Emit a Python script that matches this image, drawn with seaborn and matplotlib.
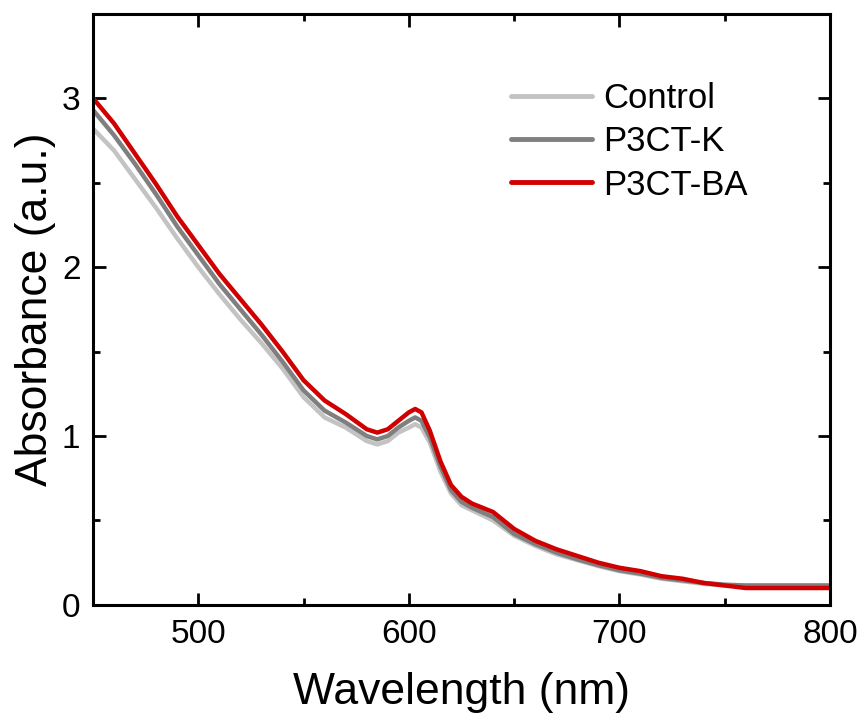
import numpy as np
import pandas as pd
import matplotlib
matplotlib.use("Agg")
import matplotlib.pyplot as plt
import seaborn as sns
from matplotlib.ticker import MultipleLocator

wavelength = [450, 460, 470, 480, 490, 500, 510, 520, 530, 540, 550, 560, 570, 580, 585,
              590, 595, 600, 603, 606, 610, 615, 620, 625, 630, 640, 650, 660, 670, 680,
              690, 700, 710, 720, 730, 740, 750, 760, 770, 780, 790, 800]

control = [2.82, 2.69, 2.52, 2.35, 2.17, 2.00, 1.84, 1.69, 1.55, 1.40, 1.23, 1.11, 1.05, 0.97, 0.95,
           0.97, 1.02, 1.05, 1.07, 1.05, 0.96, 0.79, 0.66, 0.59, 0.56, 0.50, 0.41, 0.35, 0.30, 0.265,
           0.23, 0.20, 0.18, 0.155, 0.14, 0.125, 0.115, 0.115, 0.115, 0.115, 0.115, 0.115]

p3ct_k = [2.93, 2.78, 2.61, 2.43, 2.24, 2.07, 1.90, 1.75, 1.60, 1.44, 1.27, 1.15, 1.08, 1.00, 0.98,
          1.00, 1.05, 1.09, 1.11, 1.09, 0.99, 0.82, 0.68, 0.61, 0.575, 0.52, 0.42, 0.36, 0.31, 0.27,
          0.235, 0.205, 0.185, 0.16, 0.145, 0.13, 0.12, 0.115, 0.115, 0.115, 0.115, 0.115]

p3ct_ba = [3.00, 2.85, 2.67, 2.49, 2.30, 2.13, 1.96, 1.81, 1.66, 1.50, 1.33, 1.21, 1.13, 1.04, 1.02,
           1.04, 1.09, 1.14, 1.16, 1.14, 1.03, 0.85, 0.71, 0.64, 0.60, 0.55, 0.45, 0.38, 0.33, 0.29,
           0.25, 0.22, 0.20, 0.17, 0.155, 0.13, 0.115, 0.10, 0.10, 0.10, 0.10, 0.10]

series_names = ["Control", "P3CT-K", "P3CT-BA"]
colors = ["#c3c3c3", "#7f7f7f", "#d10000"]

df = pd.concat([
    pd.DataFrame({"Wavelength": wavelength, "Absorbance": vals, "Sample": name})
    for name, vals in zip(series_names, [control, p3ct_k, p3ct_ba])
], ignore_index=True)

sns.set_style("ticks")
plt.rcParams["font.family"] = ["Liberation Sans", "DejaVu Sans"]
plt.rcParams["text.color"] = "black"
plt.rcParams["axes.labelcolor"] = "black"
plt.rcParams["xtick.color"] = "black"
plt.rcParams["ytick.color"] = "black"

fig = plt.figure(figsize=(8.61, 7.21), dpi=100)
ax = fig.add_axes([0.108, 0.161, 0.856, 0.820])

sns.lineplot(data=df, x="Wavelength", y="Absorbance", hue="Sample",
             hue_order=series_names, palette=colors, linewidth=3.2, ax=ax,
             legend=True)

ax.set_xlim(450, 800)
ax.set_ylim(0, 3.5)
ax.xaxis.set_major_locator(MultipleLocator(100))
ax.xaxis.set_minor_locator(MultipleLocator(50))
ax.yaxis.set_major_locator(MultipleLocator(1))
ax.yaxis.set_minor_locator(MultipleLocator(0.5))
ax.tick_params(which="both", direction="in", top=True, right=True, width=2,
               color="black", labelcolor="black")
ax.tick_params(which="major", length=9, labelsize=24)
ax.tick_params(axis="x", which="major", pad=10)
ax.tick_params(axis="y", which="major", pad=9)
ax.tick_params(which="minor", length=5)
for s in ax.spines.values():
    s.set_linewidth(2.2)
    s.set_color("black")

ax.set_xlabel("Wavelength (nm)", fontsize=32, labelpad=16, color="black")
ax.set_ylabel("Absorbance (a.u.)", fontsize=32, labelpad=4, color="black")

handles, labels = ax.get_legend_handles_labels()
leg = ax.legend(handles, labels, loc="upper left", bbox_to_anchor=(0.567, 0.885),
                frameon=False, fontsize=25, handlelength=2.35, handletextpad=0.3,
                labelspacing=0.3, borderpad=0, borderaxespad=0)
for line in leg.get_lines():
    line.set_linewidth(3.5)

fig.savefig("out.png", dpi=100)
